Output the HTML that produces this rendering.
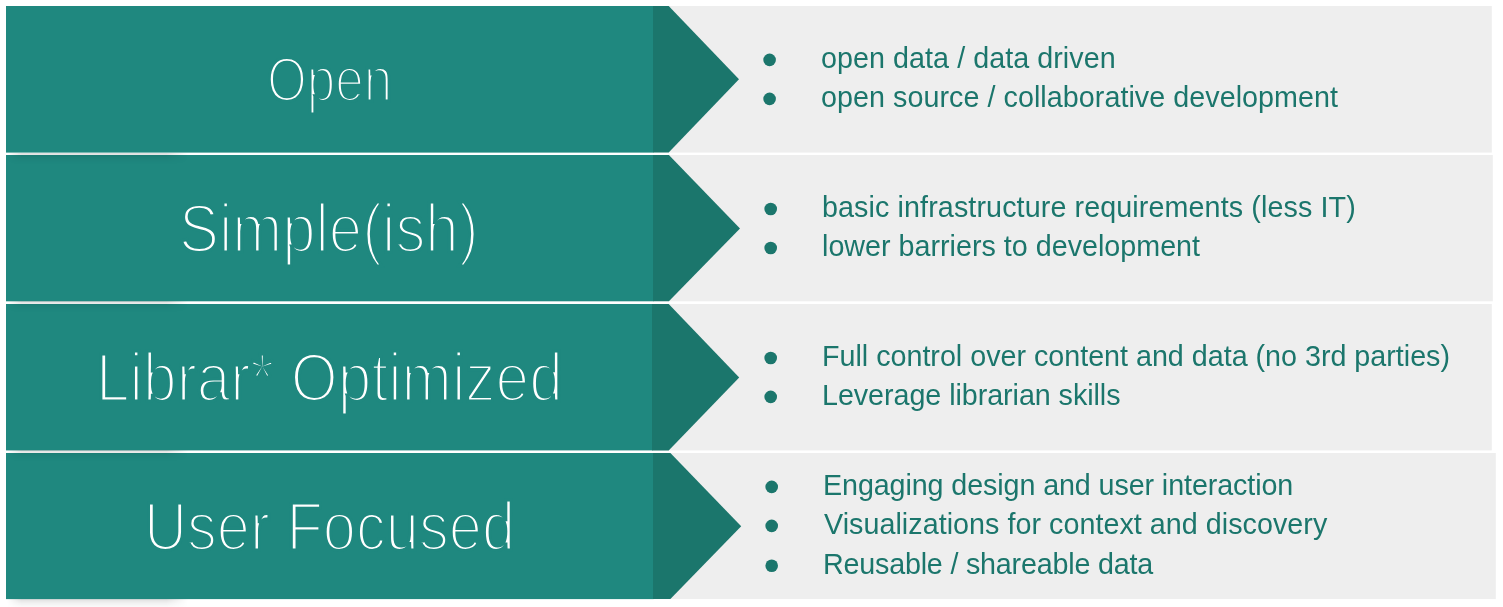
<!DOCTYPE html>
<html lang="en">
<head>
<meta charset="utf-8">
<title>Principles</title>
<style>
html,body{margin:0;padding:0;background:#fff;}
body{width:1503px;height:607px;overflow:hidden;position:relative;font-family:"Liberation Sans",sans-serif;}
svg.shapes{position:absolute;left:0;top:0;display:block;}
h2,ul,li{margin:0;padding:0;font-weight:normal;list-style:none;}
.head{position:absolute;white-space:nowrap;color:#fff;line-height:1;-webkit-text-stroke:3.2px #1f887f;transform-origin:0 0;}
.li{position:absolute;white-space:nowrap;color:#1b766c;font-size:28.7px;line-height:1;will-change:transform;}
.sh{position:absolute;left:7px;width:181px;height:11px;background:linear-gradient(to bottom,rgba(0,0,0,.13),rgba(0,0,0,.06) 35%,rgba(0,0,0,.02) 70%,rgba(0,0,0,0));-webkit-mask-image:linear-gradient(to right,transparent,#000 8%,#000 88%,transparent);mask-image:linear-gradient(to right,transparent,#000 8%,#000 88%,transparent);}
</style>
</head>
<body>
<svg class="shapes" width="1503" height="607" viewBox="0 0 1503 607" aria-hidden="true">
<rect x="653.0" y="6.0" width="838.8" height="146.6" fill="#eeeeee"/>
<rect x="6" y="6.0" width="647.5" height="146.6" fill="#1f887f"/>
<polygon points="653.0,6.0 668.7,6.0 739.0,79.30 668.7,152.6 653.0,152.6" fill="#1b766c"/>
<circle cx="769.6" cy="59.9" r="6.3" fill="#1b766c"/>
<circle cx="769.6" cy="98.9" r="6.3" fill="#1b766c"/>
<rect x="653.0" y="155.0" width="839.8" height="146.3" fill="#eeeeee"/>
<rect x="6" y="155.0" width="647.5" height="146.3" fill="#1f887f"/>
<polygon points="653.0,155.0 668.9,155.0 740.0,228.40 668.9,301.3 653.0,301.3" fill="#1b766c"/>
<circle cx="770.7" cy="209.0" r="6.3" fill="#1b766c"/>
<circle cx="770.7" cy="248.05" r="6.3" fill="#1b766c"/>
<rect x="652.0" y="304.0" width="839.8" height="146.4" fill="#eeeeee"/>
<rect x="6" y="304.0" width="646.5" height="146.4" fill="#1f887f"/>
<polygon points="652.0,304.0 668.7,304.0 739.2,377.40 668.7,450.4 652.0,450.4" fill="#1b766c"/>
<circle cx="770.7" cy="357.95" r="6.3" fill="#1b766c"/>
<circle cx="770.7" cy="396.9" r="6.3" fill="#1b766c"/>
<rect x="653.0" y="453.0" width="842.8" height="146.1" fill="#eeeeee"/>
<rect x="6" y="453.0" width="647.5" height="146.1" fill="#1f887f"/>
<polygon points="653.0,453.0 670.4,453.0 741.2,526.30 670.4,599.1 653.0,599.1" fill="#1b766c"/>
<circle cx="771.7" cy="486.9" r="6.3" fill="#1b766c"/>
<circle cx="771.7" cy="525.9" r="6.3" fill="#1b766c"/>
<circle cx="771.7" cy="565.7" r="6.3" fill="#1b766c"/>
</svg>
<section class="row">
<h2 class="head" id="h0" style="left:267px;top:49px;font-size:62.12px;transform:scaleX(0.8250)">Open</h2>
<ul>
<li class="li" id="l0_0" style="left:821px;top:44px;letter-spacing:0.054px">open data / data driven</li>
<li class="li" id="l0_1" style="left:821px;top:83px;letter-spacing:0.051px">open source / collaborative development</li>
</ul>
</section>
<section class="row">
<h2 class="head" id="h1" style="left:179px;top:195px;font-size:67.76px;transform:scaleX(0.8844)">Simple(ish)</h2>
<ul>
<li class="li" id="l1_0" style="left:822px;top:193px;letter-spacing:0.105px">basic infrastructure requirements (less IT)</li>
<li class="li" id="l1_1" style="left:822px;top:232px;letter-spacing:0.005px">lower barriers to development</li>
</ul>
</section>
<section class="row">
<h2 class="head" id="h2" style="left:96px;top:344px;font-size:67.76px;transform:scaleX(0.8919)">Librar* Optimized</h2>
<ul>
<li class="li" id="l2_0" style="left:822px;top:342px;letter-spacing:-0.006px">Full control over content and data (no 3rd parties)</li>
<li class="li" id="l2_1" style="left:822px;top:381px;letter-spacing:-0.052px">Leverage librarian skills</li>
</ul>
</section>
<section class="row">
<h2 class="head" id="h3" style="left:144px;top:493px;font-size:67.76px;transform:scaleX(0.8798)">User Focused</h2>
<ul>
<li class="li" id="l3_0" style="left:823px;top:471px;letter-spacing:-0.098px">Engaging design and user interaction</li>
<li class="li" id="l3_1" style="left:824px;top:510px;letter-spacing:0.039px">Visualizations for context and discovery</li>
<li class="li" id="l3_2" style="left:823px;top:550px;letter-spacing:-0.198px">Reusable / shareable data</li>
</ul>
</section>
<div class="sh" style="top:152.6px"></div>
<div class="sh" style="top:301.3px"></div>
<div class="sh" style="top:450.4px"></div>
<div class="sh" style="top:599.1px"></div>
</body>
</html>
